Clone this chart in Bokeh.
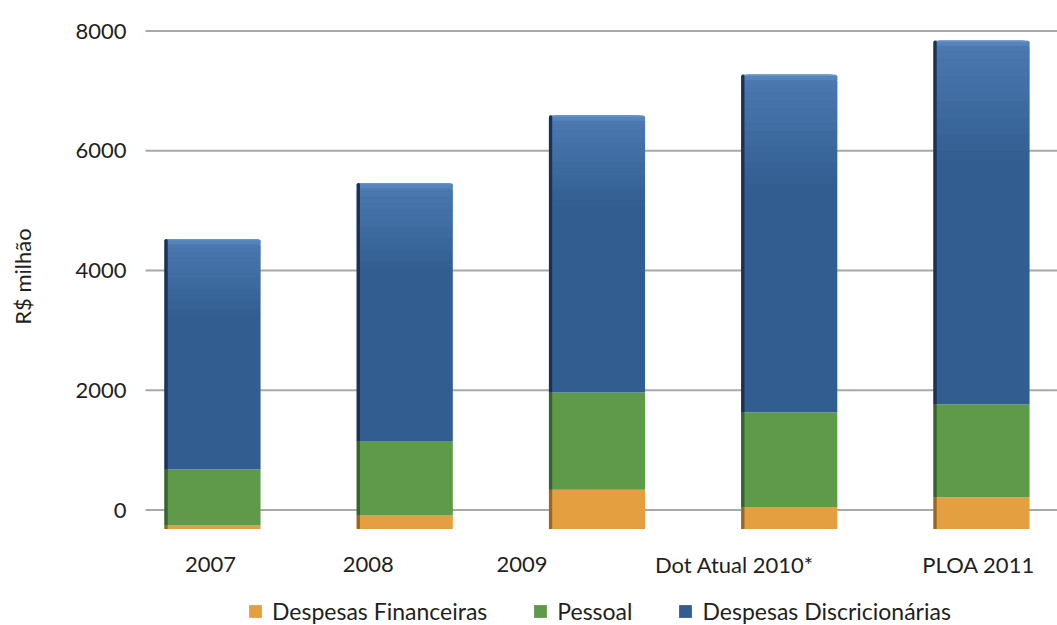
import numpy as np
from bokeh.plotting import figure
from bokeh.core.properties import value
from bokeh.models import ColumnDataSource, Range1d, Legend, LegendItem
from bokeh.embed import file_html
from bokeh.resources import INLINE

# --- data (R$ milhão) ---
categories = ["2007", "2008", "2009", "Dot Atual 2010*", "PLOA 2011"]
financeiras = [60, 225, 655, 370, 530]
pessoal = [935, 1245, 1625, 1580, 1555]
discricionarias = [3850, 4310, 4630, 5640, 6075]
series_names = ["Despesas Financeiras", "Pessoal", "Despesas Discricionárias"]
y_ticks = [0, 2000, 4000, 6000, 8000]
y_title = "R$ milhão"

# --- layout / style (x in category units, y in R$ milhão) ---
X_RANGE = (-1.1027, 4.3953)
Y_RANGE = (-1929.0, 8509.4)
GRID_START = -0.3485    # gridlines begin right of the tick labels
TICK_X = -0.447         # right edge of the value labels
TITLE_X, TITLE_Y = -0.988, 3900
FLOOR = -318            # the 3-D floor sits a little below the zero line
BAR_W = 0.5
EDGE_W = 0.017
BEVEL = 45              # height of the light top bevel
SHINE_BANDS = 14        # soft highlight over the upper part of the top segment
SHINE_FRAC = 0.32
SHINE_COLOR = "#6a9ad4"
SHINE_ALPHA = 0.45
LABEL_POS = [-0.01, 0.81, 1.61, 2.715, 3.985]
LABEL_Y = -905          # category labels sit under the floor
FONT = "Lato"
TEXT = "#231f20"
FILL = ["#e4a040", "#5f9a4b", "#325d91"]
EDGE = ["#9c6620", "#36642b", "#1a3256"]
TOP_LIGHT = "#6a95cb"
GRID = "#a8a8a8"

x = np.arange(len(categories), dtype=float)
stack = np.array([financeiras, pessoal, discricionarias], dtype=float)
tops = FLOOR + np.cumsum(stack, axis=0)
bottoms = tops - stack

p = figure(width=1057, height=625,
           x_range=Range1d(*X_RANGE), y_range=Range1d(*Y_RANGE),
           output_backend="svg", toolbar_location=None,
           x_axis_type=None, y_axis_type=None,
           min_border=0)
p.outline_line_color = None
p.background_fill_color = "white"
p.border_fill_color = "white"

# horizontal gridlines at the scale's values
p.segment(x0=[GRID_START] * len(y_ticks), x1=[X_RANGE[1]] * len(y_ticks),
          y0=y_ticks, y1=y_ticks, line_color=GRID, line_width=2)

# value labels and title of the vertical scale
p.text(x=[TICK_X] * len(y_ticks), y=y_ticks, text=[str(t) for t in y_ticks],
       text_align="right", text_baseline="middle",
       text_font=value(FONT), text_font_size="22px", text_color=TEXT)
p.text(x=[TITLE_X], y=[TITLE_Y], text=[y_title], angle=np.pi / 2,
       text_align="center", text_baseline="middle",
       text_font=value(FONT), text_font_size="22px", text_color=TEXT)

renderers = []
for i in range(3):
    src = ColumnDataSource(dict(x=x, bottom=bottoms[i], top=tops[i],
                                xl=x - BAR_W / 2 + EDGE_W / 2))
    radius = (7, 7, 0, 0) if i == 2 else 0
    r = p.vbar(x="x", bottom="bottom", top="top", width=BAR_W, source=src,
               fill_color=FILL[i], line_color=None, border_radius=radius)
    if i == 2:
        # soft shine below the top, fading downwards
        band = SHINE_FRAC * stack[i] / SHINE_BANDS
        start = tops[i] - BEVEL
        for k in range(SHINE_BANDS):
            p.vbar(x=x, top=start - k * band, bottom=start - (k + 1) * band,
                   width=BAR_W, fill_color=SHINE_COLOR,
                   fill_alpha=SHINE_ALPHA * (1 - k / SHINE_BANDS), line_color=None)
        # light bevel along the rounded top
        p.vbar(x=x, bottom=tops[i] - BEVEL, top=tops[i], width=BAR_W,
               fill_color=TOP_LIGHT, line_color=None, border_radius=radius)
        p.vbar(x=x, bottom=tops[i] - 2 * BEVEL, top=tops[i] - BEVEL / 2, width=BAR_W,
               fill_color="#5584bd", line_color=None)
    p.vbar(x="xl", bottom="bottom", top="top", width=EDGE_W, source=src,
           fill_color=EDGE[i], line_color=None, border_radius=radius)
    renderers.append(r)

p.text(x=LABEL_POS, y=[LABEL_Y] * len(categories), text=categories,
       text_align="center", text_baseline="middle",
       text_font=value(FONT), text_font_size="22px", text_color=TEXT)

legend = Legend(items=[LegendItem(label=n, renderers=[r]) for n, r in zip(series_names, renderers)],
                orientation="horizontal", location=(247, 0), spacing=45,
                glyph_width=16, glyph_height=16, label_standoff=9,
                padding=0, margin=0, border_line_color=None, background_fill_alpha=0,
                label_text_font=FONT, label_text_font_size="23px",
                label_text_color=TEXT)
p.add_layout(legend)

open("out.html", "w").write(file_html(p, INLINE))
